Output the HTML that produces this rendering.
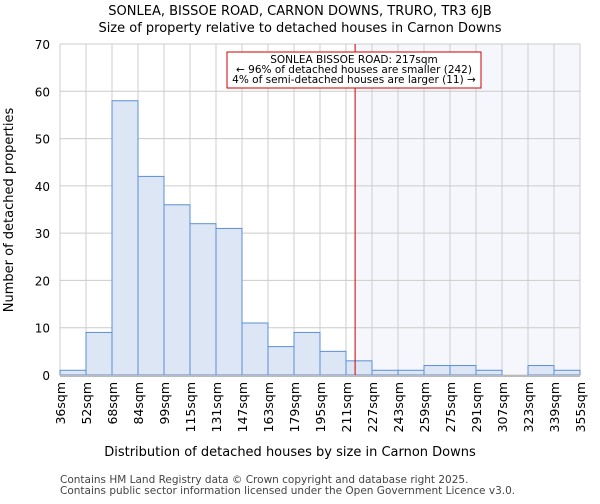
<!DOCTYPE html>
<html><head><meta charset="utf-8"><style>
body{margin:0;background:#fff;font-family:"DejaVu Sans","Liberation Sans",sans-serif;}
svg text{font-family:"DejaVu Sans","Liberation Sans",sans-serif;}
</style></head><body>
<svg id="chart" width="600" height="500" xmlns="http://www.w3.org/2000/svg">
<text x="300" y="15" text-anchor="middle" font-size="13">SONLEA, BISSOE ROAD, CARNON DOWNS, TRURO, TR3 6JB</text>
<text x="300" y="32" text-anchor="middle" font-size="13">Size of property relative to detached houses in Carnon Downs</text>
<g id="grid"></g><g id="bars"></g><g id="axes"></g>
<text transform="translate(13,210) rotate(-90)" text-anchor="middle" font-size="13">Number of detached properties</text>
<text x="290" y="456" text-anchor="middle" font-size="13">Distribution of detached houses by size in Carnon Downs</text>
<text x="60" y="483" font-size="10.5" fill="#444">Contains HM Land Registry data © Crown copyright and database right 2025.</text>
<text x="60" y="494" font-size="10.5" fill="#444">Contains public sector information licensed under the Open Government Licence v3.0.</text>
<g>
<rect x="227" y="52" width="254" height="36" fill="#fff" stroke="#c00" stroke-width="1"/>
<text x="354" y="63" text-anchor="middle" font-size="10.5">SONLEA BISSOE ROAD: 217sqm</text>
<text x="354" y="73" text-anchor="middle" font-size="10.5">← 96% of detached houses are smaller (242)</text>
<text x="354" y="83" text-anchor="middle" font-size="10.5">4% of semi-detached houses are larger (11) →</text>
</g>
</svg>
<script>
const tickLabels=["36sqm","52sqm","68sqm","84sqm","99sqm","115sqm","131sqm","147sqm","163sqm","179sqm","195sqm","211sqm","227sqm","243sqm","259sqm","275sqm","291sqm","307sqm","323sqm","339sqm","355sqm"];
const counts=[1,9,58,42,36,32,31,11,6,9,5,3,1,1,2,2,1,0,2,1];
const yTicks=[0,10,20,30,40,50,60,70];
const markerIndex=11.35;
const X0=60,X1=580,Y0=375,Y1=44,YMAX=70;
const bw=(X1-X0)/counts.length;
const xs=i=>X0+i*bw, ys=v=>Y0-(v/YMAX)*(Y0-Y1);
const NS="http://www.w3.org/2000/svg";
function mk(t,a,p){const e=document.createElementNS(NS,t);for(const k in a)e.setAttribute(k,a[k]);p.appendChild(e);return e;}
const grid=document.getElementById('grid'),bars=document.getElementById('bars'),axes=document.getElementById('axes');
const mx=xs(markerIndex);
const shade=mk('rect',{x:mx,y:Y1,width:X1-mx,height:Y0-Y1,fill:'#f5f7fd'},grid);


tickLabels.forEach((l,i)=>{
 const g=mk('line',{x1:xs(i),x2:xs(i),y1:Y1,y2:Y0,stroke:'#ccc','stroke-width':1},grid);
 
 
 const t=mk('text',{transform:`translate(${xs(i)+5},382) rotate(-90)`,'text-anchor':'end','font-size':12.5},axes);
 t.textContent=l;
 
 
});
yTicks.forEach(v=>{
 const g=mk('line',{x1:X0,x2:X1,y1:ys(v),y2:ys(v),stroke:'#ccc','stroke-width':1},grid);
 
 
 const t=mk('text',{x:50,y:ys(v)+5,'text-anchor':'end','font-size':12},axes);
 t.textContent=v;
 
 
});
counts.forEach((c,i)=>{
 if(c<=0)return;
 const r=mk('rect',{x:xs(i),y:ys(c),width:bw,height:Y0-ys(c),fill:'#dce6f4',stroke:'#5b8fd6','stroke-width':1},bars);
 
 
});
const ax=mk('line',{x1:X0,x2:X1,y1:Y0+1,y2:Y0+1,stroke:'#bbb','stroke-width':2},axes);


const ml=mk('line',{x1:mx,x2:mx,y1:Y1,y2:Y0,stroke:'#c00','stroke-width':1},axes);


</script>
</body></html>
